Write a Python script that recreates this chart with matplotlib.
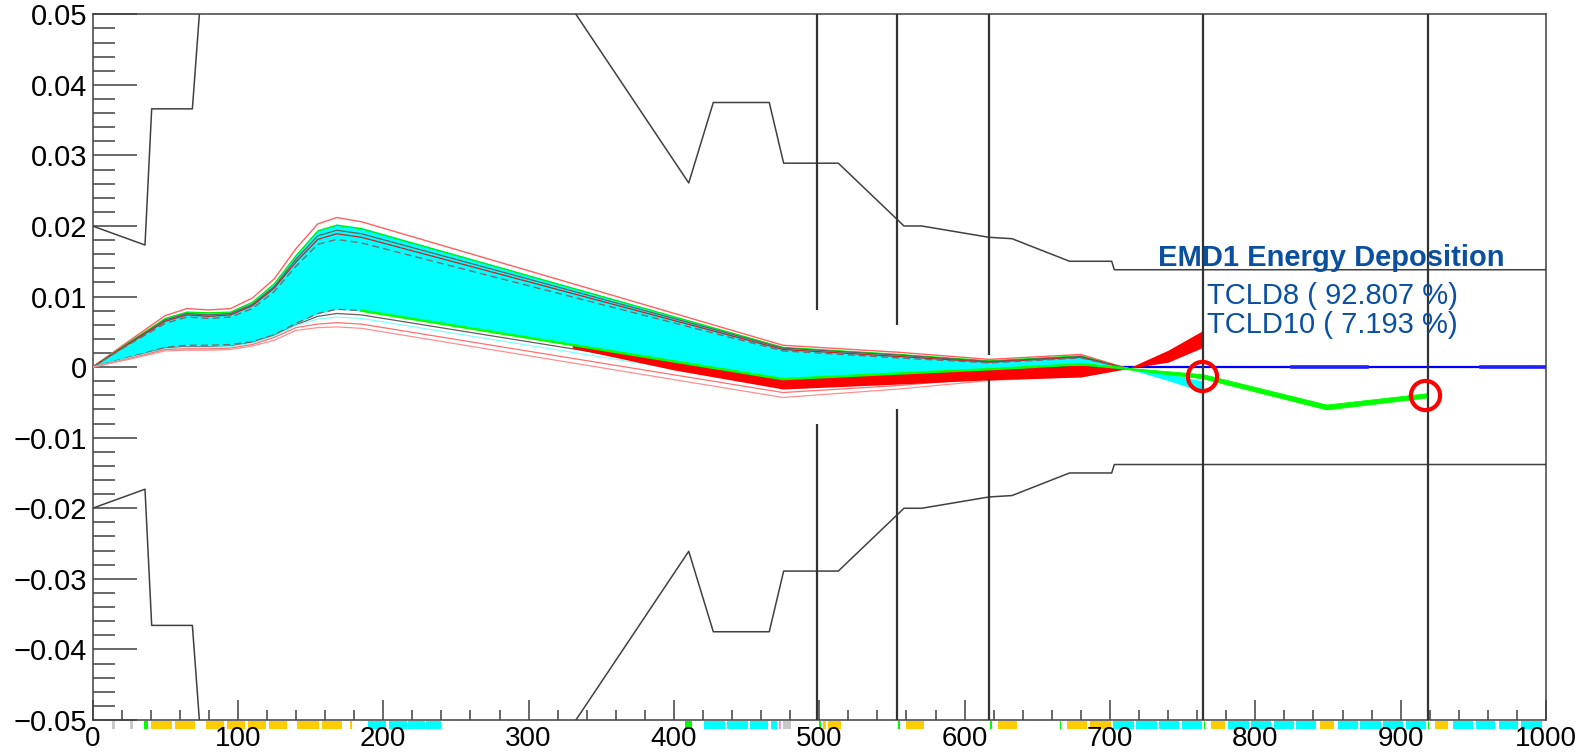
import matplotlib.pyplot as plt
import matplotlib.transforms as mtransforms
from matplotlib.patches import Rectangle
from matplotlib.ticker import MultipleLocator

plt.rcParams['font.family'] = ['Liberation Sans', 'DejaVu Sans']

# machine aperture, upper half (the lower half is the mirror image)
aper_x = [0, 36.1, 40.7, 68.7, 73.5, 76, 313, 332.6, 410.2, 427.1, 465.6, 475.5,
          513.1, 558.3, 570.5, 616.7, 632.6, 672.2, 701.2, 703.0, 1000]
aper_y = [0.0200, 0.0173, 0.0366, 0.0366, 0.0500, 0.0560, 0.0560, 0.0500, 0.0261,
          0.0375, 0.0375, 0.0289, 0.0289, 0.0200, 0.0200, 0.0184, 0.0182, 0.0150,
          0.0150, 0.0138, 0.0138]

# collimator jaws: position and half gap (0 = drawn through)
jaw_x = [498.7, 553.7, 617.0, 764.2, 918.5]
jaw_gap = [0.0081, 0.0059, 0.0017, 0.0, 0.0]

# trajectory bundle, read at these s positions
node_x = [0, 25, 50, 65, 80, 95, 110, 125, 140, 155, 168, 185, 475, 555, 617, 680, 712]
hi_red = [0, .0037, .0073, .0083, .0081, .0083, .0098, .0125, .0168, .0203, .0212, .0206, .0031, .0021, .0011, .0018, -.0002]
cyan_top = [0, .0035, .0070, .0079, .0078, .0079, .0093, .0120, .0160, .0195, .0203, .0198, .0029, .0019, .0009, .0017, -.0002]
grn_edge = [0, .0035, .0069, .0078, .0077, .0078, .0092, .0118, .0158, .0193, .0201, .0196, .0028, .0018, .0009, .0016, -.0002]
grey_top = [0, .0034, .0067, .0076, .0074, .0076, .0089, .0114, .0153, .0186, .0194, .0189, .0027, .0017, .0008, .0015, -.0002]
red_top = [0, .0033, .0065, .0074, .0072, .0074, .0087, .0112, .0149, .0181, .0189, .0184, .0025, .0015, .0007, .0014, -.0002]
dash_top = [0, .0032, .0062, .0071, .0069, .0071, .0083, .0107, .0143, .0174, .0181, .0176, .0023, .0013, .0006, .0013, -.0002]
cyan_bot = [0, .0014, .0028, .0031, .0031, .0032, .0036, .0046, .0062, .0076, .0082, .0080, -.0017, -.0009, -.0003, .0004, -.0002]
grey_lo = [0, .0013, .0027, .0029, .0029, .0030, .0035, .0045, .0060, .0072, .0076, .0074, -.0022, -.0014, -.0007, .0000, -.0002]
cyan_lo = [0, .0013, .0026, .0028, .0028, .0029, .0034, .0044, .0059, .0068, .0071, .0069, -.0027, -.0018, -.0010, -.0003, -.0002]
red_lo1 = [0, .0012, .0025, .0026, .0026, .0027, .0032, .0042, .0056, .0061, .0063, .0061, -.0036, -.0026, -.0015, -.0010, -.0002]
red_lo2 = [0, .0011, .0023, .0024, .0024, .0025, .0030, .0038, .0052, .0056, .0057, .0055, -.0043, -.0031, -.0019, -.0013, -.0002]

red_band_x = [330, 400, 475, 555, 617, 680, 712]
red_band_top = [0.0032, 0.0009, -0.0017, -0.0009, -0.0003, 0.0003, -0.0002]
red_band_bot = [0.0027, -0.0004, -0.0031, -0.0024, -0.0018, -0.0014, -0.0002]

tail_x = [712, 740, 764]
red_tail_top = [-0.0002, 0.0024, 0.0052]
red_tail_bot = [-0.0002, 0.0007, 0.0028]
cyan_tail_top = [-0.0002, -0.0009, -0.0020]
cyan_tail_bot = [-0.0002, -0.0019, -0.0035]

green_x = [712, 764, 849, 918]
green_top = [-0.0001, -0.0010, -0.0053, -0.0037]
green_bot = [-0.0003, -0.0016, -0.0060, -0.0043]

blue_x = [620, 1000]
blue_y = [0, 0]
blue_thick = [(825, 877), (955, 1000)]

loss_x = [763.1, 916.8]
loss_y = [-0.0013, -0.0039]

# beamline elements drawn under the s axis
elem_start = [13.3, 25.9, 35.7, 40.3, 56.7, 77.8, 92.8, 106.8, 121.2, 140.8, 157.6, 176.9,
              189.8, 203.9, 216.8, 229.4, 407.7, 421.0, 436.8, 452.5, 466.5, 472.5, 475.3,
              500.0, 502.5, 506.0, 554.4, 559.6, 617.5, 622.8, 665.3, 670.2, 686.0,
              701.8, 718.2, 733.7, 749.5, 764.6, 769.5, 781.4, 796.8, 812.6, 828.0,
              844.6, 856.8, 872.3, 887.7, 903.5, 918.6, 923.9, 936.1, 951.6, 967.4, 982.5]
elem_end = [15.4, 28.0, 38.5, 55.0, 70.8, 90.7, 104.7, 119.1, 133.8, 155.5, 171.3, 178.3,
            202.1, 216.1, 228.4, 239.6, 412.3, 435.0, 450.8, 464.8, 470.8, 473.9, 480.7,
            501.0, 504.6, 514.7, 555.4, 572.0, 618.6, 636.0, 666.3, 684.2, 701.0,
            716.8, 732.3, 747.7, 763.2, 765.6, 779.0, 795.4, 810.9, 826.7, 842.0,
            854.4, 870.9, 886.3, 901.8, 917.5, 919.6, 932.6, 949.5, 964.9, 980.7, 997.2]
elem_kind = ['grey', 'grey', 'green', 'orange', 'orange', 'orange', 'orange', 'orange', 'orange',
             'orange', 'orange', 'orange', 'cyan', 'cyan', 'cyan', 'cyan', 'green', 'cyan', 'cyan',
             'cyan', 'cyan', 'pink', 'grey', 'green', 'orange', 'orange', 'green', 'orange', 'green',
             'orange', 'green', 'orange', 'orange', 'cyan', 'cyan', 'cyan', 'cyan', 'green',
             'orange', 'cyan', 'cyan', 'cyan', 'cyan', 'orange', 'cyan', 'cyan', 'cyan', 'cyan',
             'green', 'orange', 'cyan', 'cyan', 'cyan', 'cyan']
elem_colors = {'orange': '#ffcc00', 'cyan': '#00ffff', 'green': '#00ff00',
               'grey': '#c8c8c8', 'pink': '#e0a0e0'}

x_ticks = [0, 100, 200, 300, 400, 500, 600, 700, 800, 900, 1000]
x_labels = ['0', '100', '200', '300', '400', '500', '600', '700', '800', '900', '1000']
y_ticks = [-0.05, -0.04, -0.03, -0.02, -0.01, 0, 0.01, 0.02, 0.03, 0.04, 0.05]
y_labels = ['\u22120.05', '\u22120.04', '\u22120.03', '\u22120.02', '\u22120.01', '0',
            '0.01', '0.02', '0.03', '0.04', '0.05']

title = 'EMD1 Energy Deposition'
shares = ['TCLD8 ( 92.807 %)', 'TCLD10 ( 7.193 %)']
text_color = '#0b50a0'

fig = plt.figure(figsize=(15.79, 7.52), dpi=100)
ax = fig.add_axes([0.0586, 0.0426, 0.9205, 0.9384])
ax.set_xlim(0, 1000)
ax.set_ylim(-0.05, 0.05)

# aperture
ax.plot(aper_x, aper_y, color='#404040', lw=1.1, zorder=2)
ax.plot(aper_x, [-v for v in aper_y], color='#404040', lw=1.1, zorder=2)

# jaws
for xj, g in zip(jaw_x, jaw_gap):
    if g > 0:
        ax.vlines(xj, g, 0.05, color='#333333', lw=1.6, zorder=6)
        ax.vlines(xj, -0.05, -g, color='#333333', lw=1.6, zorder=6)
    else:
        ax.vlines(xj, -0.05, 0.05, color='#333333', lw=1.6, zorder=6)

# reference orbit
ax.plot(blue_x, blue_y, color='#0000ff', lw=1.6, zorder=3)
for a, b in blue_thick:
    ax.plot([a, b], [0, 0], color='#2020ff', lw=2.6, zorder=3)

# bundle
ax.fill_between(node_x, cyan_bot, cyan_top, color='#00ffff', lw=0, zorder=3)
ax.fill_between(red_band_x, red_band_bot, red_band_top, color='#ff0000', lw=0, zorder=4.5)
ax.fill_between(tail_x, red_tail_bot, red_tail_top, color='#ff0000', lw=0, zorder=4.5)
ax.fill_between(tail_x, cyan_tail_bot, cyan_tail_top, color='#00ffff', lw=0, zorder=4.6)
ax.fill_between(green_x, green_bot, green_top, color='#00ff00', lw=0.6, ec='#00ff00', zorder=4.7)

ax.plot(node_x, hi_red, color='#ff6060', lw=1.0, zorder=4)
ax.plot(node_x, grn_edge, color='#00ee00', lw=0.9, zorder=4)
ax.plot(node_x, grey_top, color='#606060', lw=0.9, zorder=4)
ax.plot(node_x, red_top, color='#cc2020', lw=0.9, zorder=4)
ax.plot(node_x, dash_top, color='#707070', lw=1.0, ls=(0, (5, 3)), zorder=4)
ax.plot(node_x, cyan_bot, color='#707070', lw=1.0, ls=(0, (5, 3)), zorder=4)
ax.plot(node_x, grey_lo, color='#606060', lw=0.9, zorder=4)
ax.plot(node_x, cyan_lo, color='#80ffff', lw=0.9, zorder=4)
ax.plot(node_x, red_lo1, color='#ff7070', lw=0.9, zorder=4)
ax.plot(node_x, red_lo2, color='#ff9090', lw=0.9, zorder=4)
ax.plot(node_x[11:], cyan_bot[11:], color='#00ff00', lw=1.8, zorder=4.8)

# loss locations
ax.plot(loss_x, loss_y, 'o', ms=21, mfc='none', mec='#ff0000', mew=3.0, zorder=7)

ax.text(733, 0.0143, title, color=text_color, fontsize=21, fontweight='bold',
        ha='left', va='baseline', zorder=8)
ax.text(766.8, 0.0090, shares[0], color=text_color, fontsize=21, ha='left', va='baseline', zorder=8)
ax.text(766.8, 0.0049, shares[1], color=text_color, fontsize=21, ha='left', va='baseline', zorder=8)

# element strip just below the axis
trans = mtransforms.blended_transform_factory(ax.transData, ax.transAxes)
for s0, s1, k in zip(elem_start, elem_end, elem_kind):
    ax.add_patch(Rectangle((s0, -0.0135), s1 - s0, 0.012, transform=trans,
                           color=elem_colors[k], lw=0, clip_on=False, zorder=1))

ax.set_xticks(x_ticks)
ax.set_xticklabels(x_labels)
ax.set_yticks(y_ticks)
ax.set_yticklabels(y_labels)
ax.xaxis.set_minor_locator(MultipleLocator(20))
ax.yaxis.set_minor_locator(MultipleLocator(0.002))
ax.tick_params(axis='x', which='major', direction='in', length=14.4, width=1.1,
               pad=4, labelsize=20, color='#404040', top=False)
ax.tick_params(axis='x', which='minor', direction='in', length=7.2, width=1.1,
               color='#404040', top=False)
ax.tick_params(axis='y', which='major', direction='in', length=31.7, width=1.1,
               pad=4, labelsize=21, color='#404040', right=False)
ax.tick_params(axis='y', which='minor', direction='in', length=15.8, width=1.1,
               color='#404040', right=False)
for sp in ax.spines.values():
    sp.set_color('#404040')
    sp.set_linewidth(1.1)

fig.savefig('out.png', dpi=100)
